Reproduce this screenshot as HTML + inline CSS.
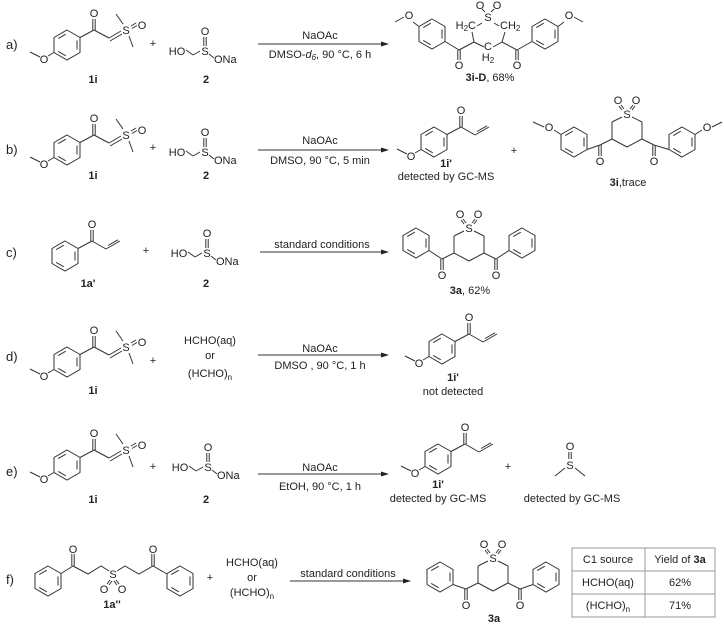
<!DOCTYPE html>
<html><head><meta charset="utf-8"><style>
html,body{margin:0;padding:0;background:#fff;}
svg{display:block;}
text{font-family:"Liberation Sans",sans-serif;font-size:11px;fill:#222;}
.b{font-weight:bold;}
line,polyline,path{stroke:#333;stroke-width:1;fill:none;}
</style></head><body>
<svg width="724" height="626" viewBox="0 0 724 626" xmlns="http://www.w3.org/2000/svg">
<defs>
<g id="ring">
<path d="M0,-15 L13,-7.5 L13,7.5 L0,15 L-13,7.5 L-13,-7.5 Z"/>
<line x1="10" y1="-4.5" x2="10" y2="4.5"/>
<line x1="-1.2" y1="10.8" x2="-8.8" y2="6.4"/>
<line x1="-8.8" y1="-6.4" x2="-1.2" y2="-10.8"/>
</g>
<g id="ome">
<line x1="-13" y1="7.5" x2="-19" y2="11"/>
<text x="-23" y="18" text-anchor="middle">O</text>
<line x1="-27" y1="12" x2="-37" y2="7"/>
</g>
<g id="ketone">
<line x1="13" y1="-7.5" x2="27" y2="-15"/>
<line x1="25.8" y1="-15" x2="25.8" y2="-26"/>
<line x1="28.2" y1="-15" x2="28.2" y2="-26"/>
<text x="27" y="-28" text-anchor="middle">O</text>
</g>
<g id="enone">
<use href="#ring"/><use href="#ketone"/>
<line x1="27" y1="-15" x2="41" y2="-7"/>
<line x1="41" y1="-7" x2="55" y2="-15"/>
<line x1="43" y1="-10.5" x2="53" y2="-16.2"/>
</g>
<g id="ylide">
<use href="#ring"/><use href="#ketone"/><use href="#ome"/>
<line x1="27" y1="-15" x2="42" y2="-7"/>
<line x1="42" y1="-7" x2="54" y2="-14"/>
<line x1="43" y1="-4" x2="55" y2="-11"/>
<text x="59" y="-11" text-anchor="middle">S</text>
<line x1="49" y1="-31" x2="56" y2="-21"/>
<line x1="62" y1="-9" x2="66" y2="2"/>
<line x1="64" y1="-19" x2="69" y2="-22"/>
<line x1="65" y1="-16.5" x2="70" y2="-19.5"/>
<text x="75" y="-16" text-anchor="middle">O</text>
</g>
<g id="hms">
<text x="-28" y="4" text-anchor="middle">HO</text>
<line x1="-19" y1="-1" x2="-12" y2="4"/>
<line x1="-12" y1="4" x2="-5" y2="0"/>
<text x="0" y="4" text-anchor="middle">S</text>
<line x1="-1.2" y1="-5" x2="-1.2" y2="-14"/>
<line x1="1.2" y1="-5" x2="1.2" y2="-14"/>
<text x="0" y="-16" text-anchor="middle">O</text>
<line x1="4" y1="3" x2="9" y2="7"/>
<text x="9" y="12">ONa</text>
</g>
<g id="core">
<text x="0" y="4" text-anchor="middle">S</text>
<line x1="-5" y1="3" x2="-15" y2="8"/><line x1="-15" y1="8" x2="-15" y2="25"/>
<line x1="-15" y1="25" x2="0" y2="33"/><line x1="0" y1="33" x2="15" y2="25"/>
<line x1="15" y1="25" x2="15" y2="8"/><line x1="15" y1="8" x2="5" y2="3"/>
<line x1="-3" y1="-5" x2="-6" y2="-9"/><line x1="-5" y1="-4" x2="-8" y2="-8"/>
<line x1="3" y1="-5" x2="6" y2="-9"/><line x1="5" y1="-4" x2="8" y2="-8"/>
<text x="-9" y="-10" text-anchor="middle">O</text>
<text x="9" y="-10" text-anchor="middle">O</text>
<line x1="-15" y1="25" x2="-27" y2="31"/>
<line x1="-28.2" y1="31" x2="-28.2" y2="42"/><line x1="-25.8" y1="31" x2="-25.8" y2="42"/>
<text x="-27" y="51" text-anchor="middle">O</text>
<line x1="15" y1="25" x2="27" y2="31"/>
<line x1="28.2" y1="31" x2="28.2" y2="42"/><line x1="25.8" y1="31" x2="25.8" y2="42"/>
<text x="27" y="51" text-anchor="middle">O</text>
</g>
<g id="arrowhead"><path d="M0,0 L-8,-2.5 L-8,2.5 Z" style="fill:#222;stroke:none"/></g>
</defs>

<!-- row labels -->
<text x="6" y="49" style="font-size:13px">a)</text>
<text x="6" y="154" style="font-size:13px">b)</text>
<text x="6" y="257" style="font-size:13px">c)</text>
<text x="6" y="361" style="font-size:13px">d)</text>
<text x="6" y="476" style="font-size:13px">e)</text>
<text x="6" y="584" style="font-size:13px">f)</text>

<!-- row a -->
<use href="#ylide" x="67" y="45"/>
<text x="153" y="47" text-anchor="middle">+</text>
<use href="#hms" x="205" y="51"/>
<text x="93" y="83" text-anchor="middle" class="b">1i</text>
<text x="206" y="83" text-anchor="middle" class="b">2</text>
<line x1="258" y1="44" x2="383" y2="44"/><use href="#arrowhead" x="389" y="44"/>
<text x="320" y="39" text-anchor="middle">NaOAc</text>
<text x="320" y="58" text-anchor="middle">DMSO-<tspan font-style="italic">d</tspan><tspan font-size="8" dy="2" font-style="italic">6</tspan><tspan dy="-2">, 90 °C, 6 h</tspan></text>
<!-- 3i-D -->
<use href="#ring" x="432" y="34"/>
<line x1="419" y1="26.5" x2="413" y2="22"/><text x="409" y="19" text-anchor="middle">O</text><line x1="404" y1="17" x2="395" y2="22"/>
<use href="#ring" x="545" y="34"/>
<line x1="558" y1="26.5" x2="564" y2="22"/><text x="569" y="19" text-anchor="middle">O</text><line x1="574" y1="17" x2="583" y2="22"/>
<line x1="445" y1="41.5" x2="459" y2="50"/><line x1="459" y1="50" x2="474" y2="42"/>
<line x1="457.8" y1="50" x2="457.8" y2="60"/><line x1="460.2" y1="50" x2="460.2" y2="60"/>
<text x="459" y="69" text-anchor="middle">O</text>
<line x1="532" y1="41.5" x2="517" y2="50"/><line x1="517" y1="50" x2="502" y2="42"/>
<line x1="515.8" y1="50" x2="515.8" y2="60"/><line x1="518.2" y1="50" x2="518.2" y2="60"/>
<text x="517" y="69" text-anchor="middle">O</text>
<line x1="474" y1="42" x2="472" y2="32"/><line x1="474" y1="42" x2="484" y2="47"/>
<line x1="502" y1="42" x2="505" y2="32"/><line x1="502" y1="42" x2="493" y2="47"/>
<text x="488" y="50" text-anchor="middle">C</text>
<text x="488" y="61" text-anchor="middle">H<tspan font-size="8" dy="2">2</tspan></text>
<text x="476" y="29" text-anchor="end">H<tspan font-size="8" dy="2">2</tspan><tspan dy="-2">C</tspan></text>
<text x="500" y="29">CH<tspan font-size="8" dy="2">2</tspan></text>
<text x="488" y="21" text-anchor="middle">S</text>
<line x1="482" y1="23" x2="477" y2="26"/><line x1="494" y1="23" x2="499" y2="26"/>
<line x1="485" y1="12" x2="482" y2="9"/><line x1="491" y1="12" x2="494" y2="9"/>
<text x="480" y="9" text-anchor="middle">O</text><text x="497" y="9" text-anchor="middle">O</text>
<text x="490" y="81" text-anchor="middle"><tspan class="b">3i-D</tspan>, 68%</text>

<!-- row b -->
<use href="#ylide" x="67" y="150"/>
<text x="153" y="151" text-anchor="middle">+</text>
<use href="#hms" x="205" y="152"/>
<text x="93" y="179" text-anchor="middle" class="b">1i</text>
<text x="206" y="179" text-anchor="middle" class="b">2</text>
<line x1="258" y1="150" x2="383" y2="150"/><use href="#arrowhead" x="389" y="150"/>
<text x="320" y="144" text-anchor="middle">NaOAc</text>
<text x="320" y="164" text-anchor="middle">DMSO, 90 °C, 5 min</text>
<use href="#enone" x="434" y="142"/><use href="#ome" x="434" y="142"/>
<text x="446" y="167" text-anchor="middle" class="b">1i'</text>
<text x="446" y="180" text-anchor="middle">detected by GC-MS</text>
<text x="514" y="154" text-anchor="middle">+</text>
<use href="#core" x="627" y="114"/>
<use href="#ring" x="574" y="142"/><line x1="587" y1="149.5" x2="600" y2="145"/>
<use href="#ring" x="682" y="142"/><line x1="669" y1="149.5" x2="654" y2="145"/>
<line x1="561" y1="134.5" x2="554" y2="130"/><text x="549" y="131" text-anchor="middle">O</text><line x1="544" y1="127" x2="533" y2="122"/>
<line x1="695" y1="134.5" x2="702" y2="130"/><text x="707" y="131" text-anchor="middle">O</text><line x1="712" y1="127" x2="722" y2="122"/>
<text x="628" y="186" text-anchor="middle"><tspan class="b">3i</tspan>,trace</text>

<!-- row c -->
<use href="#enone" x="65" y="256"/>
<text x="146" y="254" text-anchor="middle">+</text>
<use href="#hms" x="207" y="253"/>
<text x="88" y="287" text-anchor="middle" class="b">1a'</text>
<text x="206" y="287" text-anchor="middle" class="b">2</text>
<line x1="260" y1="252" x2="383" y2="252"/><use href="#arrowhead" x="389" y="252"/>
<text x="322" y="248" text-anchor="middle">standard conditions</text>
<use href="#core" x="469" y="228"/>
<use href="#ring" x="416" y="243"/><line x1="429" y1="250.5" x2="442" y2="259"/>
<use href="#ring" x="522" y="243"/><line x1="509" y1="250.5" x2="496" y2="259"/>
<text x="470" y="294" text-anchor="middle"><tspan class="b">3a</tspan>, 62%</text>

<!-- row d -->
<use href="#ylide" x="67" y="362"/>
<text x="153" y="364" text-anchor="middle">+</text>
<text x="210" y="344" text-anchor="middle">HCHO(aq)</text>
<text x="210" y="359" text-anchor="middle">or</text>
<text x="210" y="377" text-anchor="middle">(HCHO)<tspan font-size="8" dy="3">n</tspan></text>
<text x="93" y="394" text-anchor="middle" class="b">1i</text>
<line x1="258" y1="355" x2="383" y2="355"/><use href="#arrowhead" x="389" y="355"/>
<text x="320" y="352" text-anchor="middle">NaOAc</text>
<text x="320" y="369" text-anchor="middle">DMSO , 90 °C, 1 h</text>
<use href="#enone" x="442" y="349"/><use href="#ome" x="442" y="349"/>
<text x="453" y="381" text-anchor="middle" class="b">1i'</text>
<text x="453" y="395" text-anchor="middle">not detected</text>

<!-- row e -->
<use href="#ylide" x="67" y="465"/>
<text x="153" y="470" text-anchor="middle">+</text>
<use href="#hms" x="208" y="467"/>
<text x="93" y="503" text-anchor="middle" class="b">1i</text>
<text x="206" y="503" text-anchor="middle" class="b">2</text>
<line x1="258" y1="474" x2="383" y2="474"/><use href="#arrowhead" x="389" y="474"/>
<text x="320" y="471" text-anchor="middle">NaOAc</text>
<text x="320" y="490" text-anchor="middle">EtOH, 90 °C, 1 h</text>
<use href="#enone" x="438" y="459"/><use href="#ome" x="438" y="459"/>
<text x="438" y="488" text-anchor="middle" class="b">1i'</text>
<text x="438" y="502" text-anchor="middle">detected by GC-MS</text>
<text x="508" y="470" text-anchor="middle">+</text>
<text x="570" y="469" text-anchor="middle">S</text>
<line x1="568.8" y1="459" x2="568.8" y2="452"/><line x1="571.2" y1="459" x2="571.2" y2="452"/>
<text x="570" y="450" text-anchor="middle">O</text>
<line x1="565" y1="468" x2="555" y2="476"/><line x1="575" y1="468" x2="585" y2="476"/>
<text x="572" y="502" text-anchor="middle">detected by GC-MS</text>

<!-- row f -->
<use href="#ring" x="48" y="581"/>
<line x1="61" y1="573.5" x2="73" y2="566"/>
<line x1="71.8" y1="566" x2="71.8" y2="554"/><line x1="74.2" y1="566" x2="74.2" y2="554"/>
<text x="73" y="553" text-anchor="middle">O</text>
<polyline points="73,566 88,574 101,566 109,571"/>
<text x="113" y="578" text-anchor="middle">S</text>
<polyline points="117,571 125,566 139,574 153,566 167,574"/>
<line x1="151.8" y1="566" x2="151.8" y2="554"/><line x1="154.2" y1="566" x2="154.2" y2="554"/>
<text x="153" y="553" text-anchor="middle">O</text>
<use href="#ring" x="180" y="581"/>
<line x1="110" y1="580" x2="107" y2="584"/><line x1="112" y1="581" x2="109" y2="585"/>
<line x1="116" y1="580" x2="119" y2="584"/><line x1="114" y1="581" x2="117" y2="585"/>
<text x="104" y="593" text-anchor="middle">O</text><text x="122" y="593" text-anchor="middle">O</text>
<text x="112" y="608" text-anchor="middle" class="b">1a''</text>
<text x="210" y="581" text-anchor="middle">+</text>
<text x="252" y="566" text-anchor="middle">HCHO(aq)</text>
<text x="252" y="581" text-anchor="middle">or</text>
<text x="252" y="596" text-anchor="middle">(HCHO)<tspan font-size="8" dy="3">n</tspan></text>
<line x1="290" y1="581" x2="405" y2="581"/><use href="#arrowhead" x="411" y="581"/>
<text x="348" y="577" text-anchor="middle">standard conditions</text>
<use href="#core" x="493" y="558"/>
<use href="#ring" x="440" y="577"/><line x1="453" y1="584.5" x2="466" y2="589"/>
<use href="#ring" x="546" y="577"/><line x1="533" y1="584.5" x2="520" y2="589"/>
<text x="494" y="622" text-anchor="middle" class="b">3a</text>

<!-- table -->
<g style="stroke:#999">
<rect x="572" y="548" width="143" height="69" style="fill:none;stroke:#999"/>
<line x1="572" y1="571" x2="715" y2="571" style="stroke:#999"/>
<line x1="572" y1="594" x2="715" y2="594" style="stroke:#999"/>
<line x1="645" y1="548" x2="645" y2="617" style="stroke:#999"/>
</g>
<text x="608" y="563" text-anchor="middle">C1 source</text>
<text x="680" y="563" text-anchor="middle">Yield of <tspan class="b">3a</tspan></text>
<text x="608" y="586" text-anchor="middle">HCHO(aq)</text>
<text x="680" y="586" text-anchor="middle">62%</text>
<text x="608" y="609" text-anchor="middle">(HCHO)<tspan font-size="8" dy="3">n</tspan></text>
<text x="680" y="609" text-anchor="middle">71%</text>
</svg>
</body></html>
